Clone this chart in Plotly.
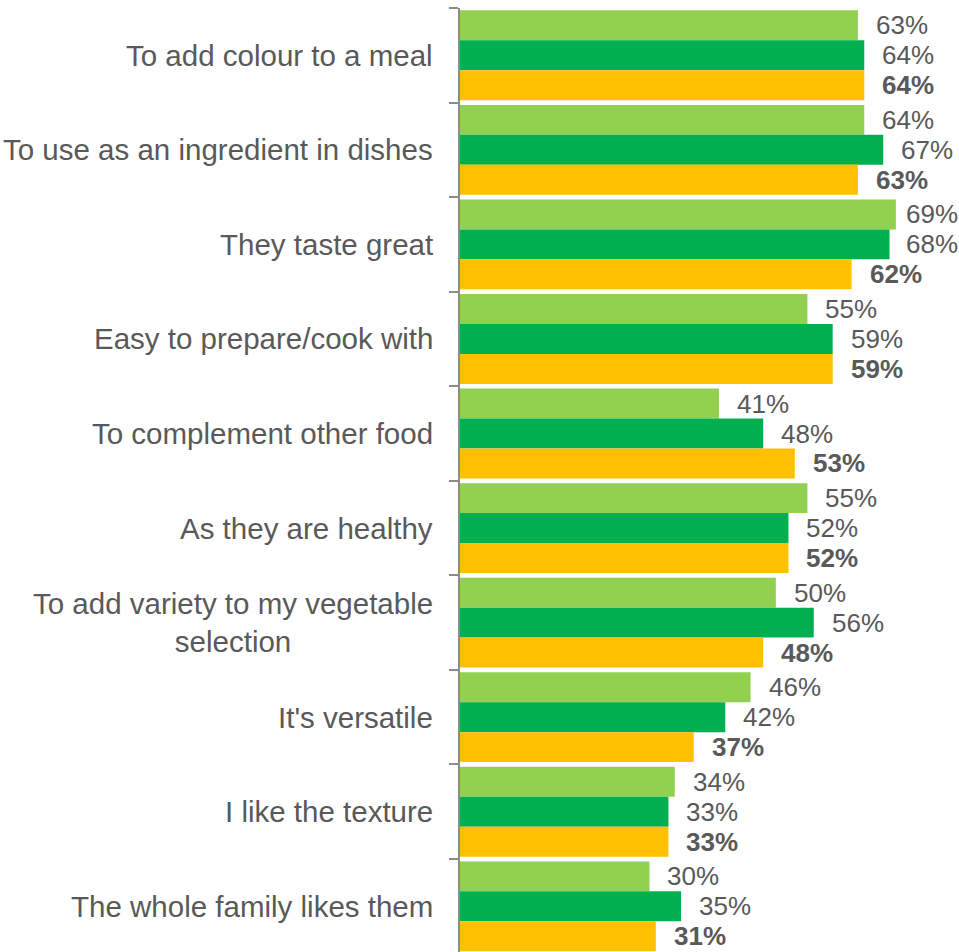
import plotly.graph_objects as go

categories = [
    "To add colour to a meal",
    "To use as an ingredient in dishes",
    "They taste great",
    "Easy to prepare/cook with",
    "To complement other food",
    "As they are healthy",
    "To add variety to my vegetable<br>selection",
    "It's versatile",
    "I like the texture",
    "The whole family likes them",
]
series_names = ["Series 1", "Series 2", "Series 3"]
series_1 = [63, 64, 69, 55, 41, 55, 50, 46, 34, 30]
series_2 = [64, 67, 68, 59, 48, 52, 56, 42, 33, 35]
series_3 = [64, 63, 62, 59, 53, 52, 48, 37, 33, 31]
colors = ["#92D050", "#00B050", "#FFC000"]

series = [series_1, series_2, series_3]
idx = list(range(len(categories)))
BARGAP = 0.05
w = (1 - BARGAP) / 3

X_MAX = 79
PLOT_W = 959 - 460
scale = PLOT_W / X_MAX          # px per unit
label_gap = 16 / scale          # gap between bar end and label, in data units
label_max = 70.25               # labels that would overflow stop here

fig = go.Figure()
for name, vals, col in zip(series_names, series, colors):
    fig.add_trace(go.Bar(
        x=vals, y=idx, orientation="h", name=name,
        marker=dict(color=col, line=dict(width=0)),
        hoverinfo="x+y",
    ))

annotations = []
TEXT = "#595959"
FONT = "Liberation Sans, Arial, sans-serif"
for i, cat in enumerate(categories):
    annotations.append(dict(
        x=0, xref="paper", y=i, yref="y", text=cat, showarrow=False,
        xanchor="right", yanchor="middle", xshift=-25, align="center",
        font=dict(family=FONT, size=29.5, color=TEXT),
    ))
for s, vals in enumerate(series):
    for i, v in enumerate(vals):
        txt = f"{v}%"
        if s == 2:
            txt = f"<b>{txt}</b>"
        annotations.append(dict(
            x=min(v + label_gap, label_max), xref="x", y=i + (s - 1) * w, yref="y",
            text=txt, showarrow=False, xanchor="left", yanchor="middle",
            font=dict(family=FONT, size=26, color=TEXT),
        ))

n = len(categories)
fig.update_layout(
    width=959, height=952,
    margin=dict(l=460, r=0, t=8, b=0),
    paper_bgcolor="white", plot_bgcolor="white",
    barmode="group", bargap=BARGAP, bargroupgap=0,
    showlegend=False,
    annotations=annotations,
    xaxis=dict(range=[0, X_MAX], visible=False, fixedrange=True),
    yaxis=dict(
        type="linear", range=[n - 0.5 - 0.017, -0.5],
        tickmode="array", tickvals=[k - 0.5 for k in range(n + 1)],
        showticklabels=False, ticks="outside", ticklen=9, tickwidth=2,
        tickcolor="#8C8C8C", showline=True, linecolor="#8C8C8C", linewidth=2,
        showgrid=False, zeroline=False,
    ),
)
fig.write_html("out.html")
